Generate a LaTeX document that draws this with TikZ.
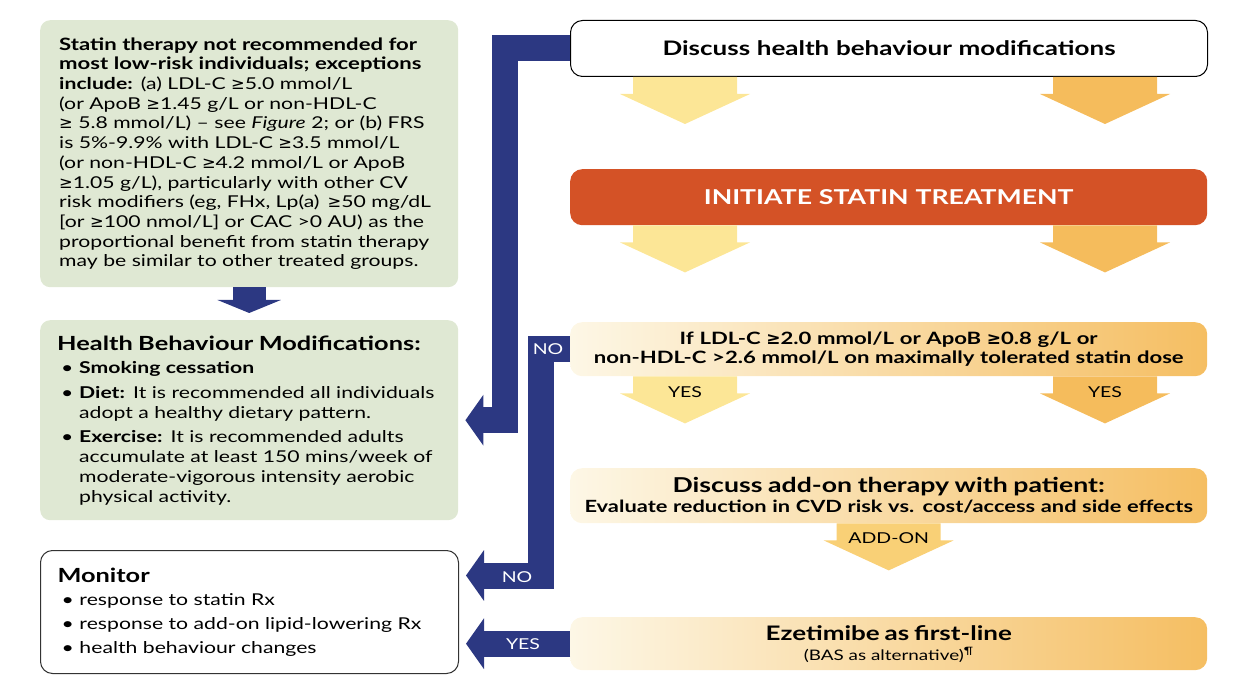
\documentclass[tikz,border=0pt]{standalone}
\usepackage{fontspec}
\setmainfont{Lato}[FakeStretch=1.3]
\usepackage{newunicodechar}
\newfontfamily\symfont{DejaVu Sans}
\newunicodechar{≥}{{\symfont ≥}}
\usetikzlibrary{positioning,calc,arrows.meta}

\definecolor{navy}{RGB}{44,56,130}
\definecolor{grn}{RGB}{223,232,211}
\definecolor{rust}{RGB}{212,82,38}
\definecolor{lyel}{RGB}{252,230,150}
\definecolor{dyel}{RGB}{245,188,92}
\definecolor{myel}{RGB}{249,208,118}
\definecolor{cream}{RGB}{253,247,230}
\definecolor{ochre}{RGB}{245,190,98}

\newcommand{\bulitem}{\makebox[22pt][l]{\hspace*{4pt}•}}
\newcommand{\itemind}{\hspace*{22pt}}

\begin{document}
\begin{tikzpicture}[
x=1pt,y=-1pt,
greenbox/.style={
  fill=grn,
  rounded corners=10pt,
  anchor=north west,
  text width=384pt,
  inner xsep=17pt,
  inner ysep=0pt,
  align=left,
  font=\fontsize{16.3}{19.7}\selectfont
  },
flowbox/.style={
  rounded corners=12pt,
  anchor=north west,
  text width=627pt,
  inner xsep=5pt,
  inner ysep=0pt,
  align=center
  },
fadebox/.style={
  flowbox,
  left color=cream,
  right color=ochre
  },
navyarrow/.style={
  draw=navy,
  line width=26pt,
  line join=miter,
  shorten >=7pt,
  -{Triangle[width=50pt,length=18pt]}
  },
navylabel/.style={
  text=white,
  font=\fontsize{15}{18}\selectfont
  },
arrowlabel/.style={
  font=\fontsize{15}{18}\selectfont
  },
fatdown/.pic={
  \path[pic actions] (-52,0) -- (52,0) -- (52,17) -- (65,17) -- (0,47)
    -- (-65,17) -- (-52,17) -- cycle;
  }
]
\useasboundingbox (0,0) rectangle (1250,700);

% left column
\node[greenbox, minimum height=267pt] (gb1) at (40,20)
{\hspace*{2pt}\textbf{\fontsize{17}{19.7}\selectfont Statin therapy not recommended for}\\
\hspace*{2pt}\textbf{\fontsize{17}{19.7}\selectfont most low-risk individuals; exceptions}\\
\hspace*{2pt}\textbf{include:} (a) LDL-C ≥5.0 mmol/L\\
\hspace*{2pt}(or ApoB ≥1.45 g/L or non-HDL-C\\
\hspace*{2pt}≥ 5.8 mmol/L) – see \textit{Figure} 2; or (b) FRS\\
\hspace*{2pt}is 5\%-9.9\% with LDL-C ≥3.5 mmol/L\\
\hspace*{2pt}(or non-HDL-C ≥4.2 mmol/L or ApoB\\
\hspace*{2pt}≥1.05 g/L), particularly with other CV\\
\hspace*{2pt}risk modifiers (eg, FHx, Lp(a) \,≥50 mg/dL\\
\hspace*{2pt}{[}or ≥100 nmol/L{]} or CAC >0 AU) as the\\
\hspace*{2pt}proportional benefit from statin therapy\\
\hspace*{2pt}may be similar to other treated groups.};

\node[greenbox, minimum height=200pt] (gb2) at (40,320)
{{\fontsize{19.5}{24}\selectfont\bfseries Health Behaviour Modifications:}\\[4pt]
\bulitem\textbf{Smoking cessation}\\[5pt]
\bulitem\textbf{Diet:} It is recommended all individuals\\
\itemind adopt a healthy dietary pattern.\\[5pt]
\bulitem\textbf{Exercise:} It is recommended adults\\
\itemind accumulate at least 150 mins/week of\\
\itemind moderate-vigorous intensity aerobic\\
\itemind physical activity.};

\node[greenbox, fill=white, draw=black!80, line width=1pt, rounded corners=12pt,
  minimum height=123pt] (mon) at (40,550)
{{\fontsize{19.5}{24}\selectfont\bfseries Monitor}\\[4pt]
\bulitem response to statin Rx\\[4pt]
\bulitem response to add-on lipid-lowering Rx\\[4pt]
\bulitem health behaviour changes};

\draw[navy, line width=33pt, shorten >=7pt, -{Triangle[width=63pt,length=13pt]}]
  (gb1.south) -- (gb2.north);

% right column
\node[flowbox, draw=black, line width=1pt, fill=white, minimum height=56pt,
  font=\fontsize{20}{24}\selectfont\bfseries] (disc) at (570,20)
  {Discuss health behaviour modifications};
\node[flowbox, fill=rust, text=white, minimum height=56pt,
  font=\fontsize{20.5}{25}\selectfont\bfseries] (init) at (570,169)
  {INITIATE STATIN TREATMENT};
\node[fadebox, minimum height=54pt, font=\fontsize{17}{18.5}\selectfont\bfseries] (ifb) at (570,322)
  {If LDL-C ≥2.0 mmol/L or ApoB ≥0.8 g/L or\\
   non-HDL-C >2.6 mmol/L on maximally tolerated statin dose};
\node[fadebox, minimum height=55pt, font=\fontsize{16.8}{20}\selectfont] (addb) at (570,468)
  {{\fontsize{20.5}{22}\selectfont\bfseries Discuss add-on therapy with patient:}\\
   \textbf{Evaluate reduction in CVD risk vs. cost/access and side effects}};
\node[fadebox, minimum height=53pt, font=\fontsize{14.5}{20}\selectfont] (ezb) at (570,617)
  {{\fontsize{20}{22}\selectfont\bfseries Ezetimibe as first-line}\\
   (BAS as alternative)\textsuperscript{¶}};

% fat down arrows
\foreach \dx/\acol in {115/lyel,535/dyel}
{
  \pic[fill=\acol] at ([xshift=\dx pt]disc.south west) {fatdown};
  \pic[fill=\acol] at ([xshift=\dx pt]init.south west) {fatdown};
  \pic[fill=\acol] at ([xshift=\dx pt]ifb.south west) {fatdown};
}
\pic[fill=myel] at (addb.south) {fatdown};

\node[arrowlabel] (yes1) at ([xshift=115pt,yshift=-16pt]ifb.south west) {YES};
\node[arrowlabel] (yes2) at ([xshift=535pt,yshift=-16pt]ifb.south west) {YES};
\node[arrowlabel] (addon) at ([yshift=-15pt]addb.south) {ADD-ON};

% navy connectors
\draw[navyarrow] (disc.west) -| ([xshift=47pt]gb2.east) -- (gb2.east);
\draw[navyarrow] (ifb.west) -| ([shift={(82pt,36.5pt)}]mon.east) -- ([yshift=36.5pt]mon.east);
\draw[navyarrow] (ezb.west) -- (ezb.west -| mon.east);

\node[navylabel] (no1) at ([xshift=-22pt]ifb.west) {NO};
\node[navylabel] (no2) at ([shift={(58pt,34.5pt)}]mon.east) {NO};
\node[navylabel] (yes3) at ([xshift=-47pt]ezb.west) {YES};

\end{tikzpicture}
\end{document}
